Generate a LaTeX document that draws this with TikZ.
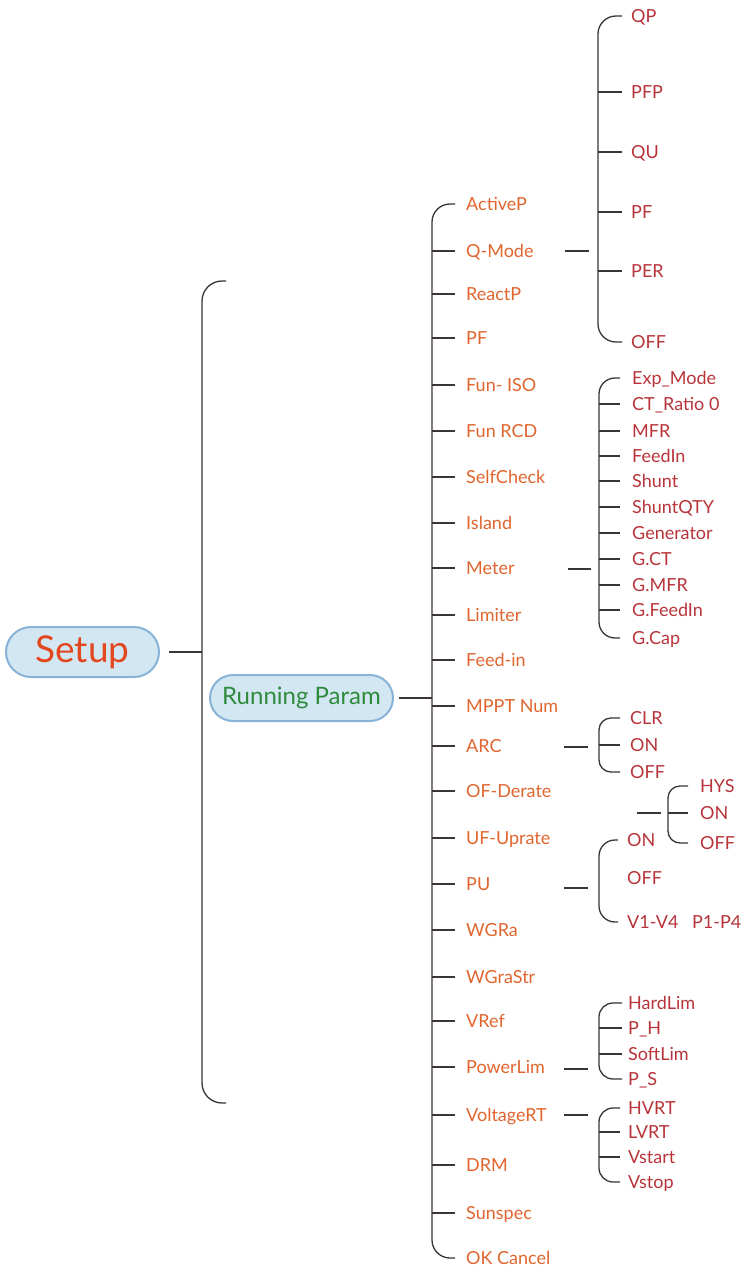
\documentclass[tikz,border=0pt]{standalone}
\usepackage{fontspec}
\setmainfont{Lato}
\definecolor{lineC}{HTML}{3A3434}
\definecolor{orT}{HTML}{E0652E}
\definecolor{rdT}{HTML}{B8343A}
\definecolor{rootT}{HTML}{E2471E}
\definecolor{grT}{HTML}{2E8B3C}
\definecolor{fillC}{HTML}{D3E7F3}
\definecolor{bordC}{HTML}{88B3D7}
\tikzset{
  ln/.style={draw=lineC, line width=1.3pt},
  lvlA/.style={text=orT, font=\fontsize{18}{20}\selectfont, inner sep=0pt, text height=13pt, text depth=0pt, anchor=west},
  lvlB/.style={text=rdT, font=\fontsize{18}{20}\selectfont, inner sep=0pt, text height=13pt, text depth=0pt, anchor=west},
  rootbox/.style={fill=fillC, draw=bordC, line width=2pt, inner sep=0pt},
}
\begin{document}
\begin{tikzpicture}[x=1pt,y=-1pt]
\useasboundingbox (0,0) rectangle (747,1267);
% root nodes
\node[rootbox, minimum width=153pt, minimum height=50pt, rounded corners=25pt, text=rootT, font=\fontsize{37}{40}\selectfont] (setup) at (82.5,652) {Setup};
\node[rootbox, minimum width=183pt, minimum height=46pt, rounded corners=23pt, text=grT, font=\fontsize{24}{28}\selectfont] (rp) at (301.5,698) {Running Param};
% setup bracket
\coordinate (sJ) at (202,652);
\coordinate (sTop) at (226,281);
\coordinate (sBot) at (226,1103);
\draw[ln] ([xshift=9pt]setup.east) -- (sJ);
\draw[ln, rounded corners=20pt] (sTop) -| (sJ) |- (sBot);
% level 1 items
\node[lvlA] (n1) at (466,204) {ActiveP};
\node[lvlA] (n2) at (466,251) {Q-Mode};
\node[lvlA] (n3) at (466,294) {ReactP};
\node[lvlA] (n4) at (466,338) {PF};
\node[lvlA] (n5) at (466,385) {Fun- ISO};
\node[lvlA] (n6) at (466,431) {Fun RCD};
\node[lvlA] (n7) at (466,477) {SelfCheck};
\node[lvlA] (n8) at (466,523) {Island};
\node[lvlA] (n9) at (466,568) {Meter};
\node[lvlA] (n10) at (466,615) {Limiter};
\node[lvlA] (n11) at (466,660) {Feed-in};
\node[lvlA] (n12) at (466,706) {MPPT Num};
\node[lvlA] (n13) at (466,746) {ARC};
\node[lvlA] (n14) at (466,791) {OF-Derate};
\node[lvlA] (n15) at (466,838) {UF-Uprate};
\node[lvlA] (n16) at (466,884) {PU};
\node[lvlA] (n17) at (466,930) {WGRa};
\node[lvlA] (n18) at (466,977) {WGraStr};
\node[lvlA] (n19) at (466,1021) {VRef};
\node[lvlA] (n20) at (466,1067) {PowerLim};
\node[lvlA] (n21) at (466,1115) {VoltageRT};
\node[lvlA] (n22) at (466,1165) {DRM};
\node[lvlA] (n23) at (466,1213) {Sunspec};
\node[lvlA] (n24) at (466,1258) {OK Cancel};
\coordinate (rJ) at (432,698);
\draw[ln] ([xshift=5pt]rp.east) -- (rJ);
\draw[ln, rounded corners=18pt] ([xshift=-11pt]n1.west) -| (rJ) |- ([xshift=-11pt]n24.west);
\foreach \i in {2,...,23} {\draw[ln] (rJ |- n\i.west) -- ([xshift=-11pt]n\i.west);}
% Q-Mode group
\coordinate (qA) at (565,251); \coordinate (qB) at (589,251);
\draw[ln] (qA) -- (qB);
\coordinate (qJ) at (598,251);
\node[lvlB] (q1) at (631,16) {QP};
\node[lvlB] (q2) at (631,92) {PFP};
\node[lvlB] (q3) at (631,152) {QU};
\node[lvlB] (q4) at (631,212) {PF};
\node[lvlB] (q5) at (631,271) {PER};
\node[lvlB] (q6) at (631,342) {OFF};
\draw[ln, rounded corners=18pt] ([xshift=-9pt]q1.west) -| (qJ) |- ([xshift=-9pt]q6.west);
\foreach \i in {2,...,5} {\draw[ln] (qJ |- q\i.west) -- ([xshift=-9pt]q\i.west);}
% Meter group
\coordinate (mA) at (568,569); \coordinate (mB) at (591,569);
\draw[ln] (mA) -- (mB);
\coordinate (mJ) at (599,569);
\node[lvlB] (m1) at (632,378) {Exp\_Mode};
\node[lvlB] (m2) at (632,404) {CT\_Ratio 0};
\node[lvlB] (m3) at (632,431) {MFR};
\node[lvlB] (m4) at (632,456) {FeedIn};
\node[lvlB] (m5) at (632,481) {Shunt};
\node[lvlB] (m6) at (632,507) {ShuntQTY};
\node[lvlB] (m7) at (632,533) {Generator};
\node[lvlB] (m8) at (632,559) {G.CT};
\node[lvlB] (m9) at (632,585) {G.MFR};
\node[lvlB] (m10) at (632,610) {G.FeedIn};
\node[lvlB] (m11) at (632,638) {G.Cap};
\draw[ln, rounded corners=16pt] ([xshift=-12pt]m1.west) -| (mJ) |- ([xshift=-12pt]m11.west);
\foreach \i in {2,...,10} {\draw[ln] (mJ |- m\i.west) -- ([xshift=-12pt]m\i.west);}
% ARC group
\coordinate (aA) at (564,747); \coordinate (aB) at (588,747);
\draw[ln] (aA) -- (aB);
\coordinate (aJ) at (599,747);
\node[lvlB] (a1) at (630,718) {CLR};
\node[lvlB] (a2) at (630,745) {ON};
\node[lvlB] (a3) at (630,772) {OFF};
\draw[ln, rounded corners=12pt] ([xshift=-10pt]a1.west) -| (aJ) |- ([xshift=-10pt]a3.west);
\draw[ln] (aJ |- a2.west) -- ([xshift=-10pt]a2.west);
% OF-Derate floating group
\coordinate (oA) at (637,813); \coordinate (oB) at (661,813);
\draw[ln] (oA) -- (oB);
\coordinate (oJ) at (668,813);
\node[lvlB] (o1) at (700,786) {HYS};
\node[lvlB] (o2) at (700,813) {ON};
\node[lvlB] (o3) at (700,843) {OFF};
\draw[ln, rounded corners=12pt] ([xshift=-12pt]o1.west) -| (oJ) |- ([xshift=-12pt]o3.west);
\draw[ln] (oJ |- o2.west) -- ([xshift=-12pt]o2.west);
% PU group
\coordinate (pA) at (564,888); \coordinate (pB) at (588,888);
\draw[ln] (pA) -- (pB);
\coordinate (pJ) at (599,888);
\node[lvlB] (p1) at (627,840) {ON};
\node[lvlB] (p2) at (627,878) {OFF};
\node[lvlB] (p3) at (627,922) {V1-V4\hspace{0.75em}P1-P4};
\draw[ln, rounded corners=16pt] ([xshift=-9pt]p1.west) -| (pJ) |- ([xshift=-9pt]p3.west);
% PowerLim group
\coordinate (lA) at (564,1069); \coordinate (lB) at (588,1069);
\draw[ln] (lA) -- (lB);
\coordinate (lJ) at (599,1041);
\node[lvlB] (l1) at (628,1003) {HardLim};
\node[lvlB] (l2) at (628,1028) {P\_H};
\node[lvlB] (l3) at (628,1054) {SoftLim};
\node[lvlB] (l4) at (628,1079) {P\_S};
\draw[ln, rounded corners=14pt] ([xshift=-6pt]l1.west) -| (lJ) |- ([xshift=-6pt]l4.west);
\foreach \i in {2,3} {\draw[ln] (lJ |- l\i.west) -- ([xshift=-6pt]l\i.west);}
% VoltageRT group
\coordinate (vA) at (564,1115); \coordinate (vB) at (588,1115);
\draw[ln] (vA) -- (vB);
\coordinate (vJ) at (599,1145);
\node[lvlB] (v1) at (628,1108) {HVRT};
\node[lvlB] (v2) at (628,1132) {LVRT};
\node[lvlB] (v3) at (628,1157) {Vstart};
\node[lvlB] (v4) at (628,1182) {Vstop};
\draw[ln, rounded corners=14pt] ([xshift=-8pt]v1.west) -| (vJ) |- ([xshift=-8pt]v4.west);
\foreach \i in {2,3} {\draw[ln] (vJ |- v\i.west) -- ([xshift=-8pt]v\i.west);}
\end{tikzpicture}
\end{document}
